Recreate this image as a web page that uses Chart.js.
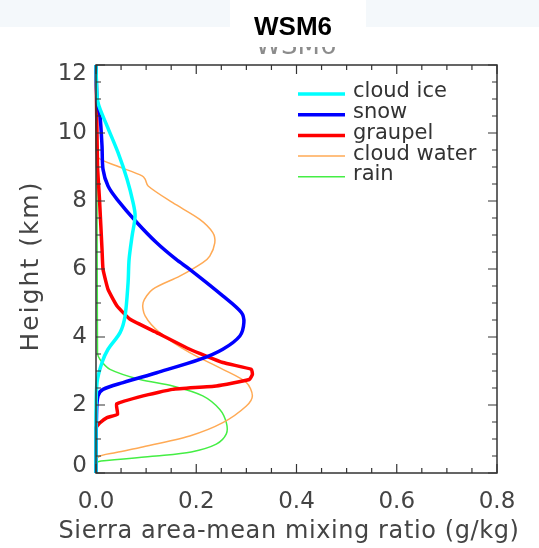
<!DOCTYPE html>
<html>
<head>
<meta charset="utf-8">
<script src="https://cdn.jsdelivr.net/npm/chart.js@4/dist/chart.umd.min.js"></script>
<style>
html, body { margin: 0; padding: 0; background: #fff; }
#wrap { width: 539px; height: 548px; }
</style>
</head>
<body>
<div id="wrap"><canvas id="profileChart" width="539" height="548"></canvas></div>
<script>

/* mixing ratio profiles (g/kg) against height (km) */

const iceHeight = [12, 11.48, 10.89, 10.21, 9.42, 8.64, 7.95, 7.56, 6.97, 6.28, 5.60, 4.62, 4.13, 3.64, 3.25, 2.66, 1.68, 0];
const iceRatio = [0.000, 0.001, 0.004, 0.022, 0.044, 0.062, 0.074, 0.078, 0.072, 0.066, 0.064, 0.058, 0.048, 0.024, 0.012, 0.002, 0.000, 0.000];

const snowHeight = [12, 10.99, 10.5, 9.62, 8.93, 8.44, 8.05, 7.36, 6.77, 6.28, 5.99, 5.21, 4.72, 4.42, 4.03, 3.64, 3.34, 2.95, 2.66, 2.46, 2.27, 1.68, 0];
const snowRatio = [0.000, 0.002, 0.008, 0.012, 0.014, 0.024, 0.042, 0.082, 0.121, 0.160, 0.187, 0.253, 0.290, 0.295, 0.287, 0.253, 0.207, 0.121, 0.054, 0.014, 0.004, 0.001, 0.000];

const graupelHeight = [12, 9.03, 8.05, 6.58, 5.99, 5.40, 4.91, 4.52, 4.13, 3.64, 3.25, 3.05, 2.90, 2.75, 2.56, 2.46, 2.27, 2.03, 1.73, 1.63, 1.48, 1.33, 0];
const graupelRatio = [0.000, 0.003, 0.007, 0.012, 0.014, 0.024, 0.042, 0.068, 0.121, 0.187, 0.253, 0.310, 0.312, 0.306, 0.240, 0.153, 0.094, 0.041, 0.043, 0.022, 0.008, 0.000, 0.000];

const cloudWaterHeight = [12, 9.62, 9.28, 9.03, 8.74, 8.64, 8.44, 7.95, 7.46, 7.07, 6.77, 6.38, 6.19, 5.79, 5.40, 5.01, 4.62, 4.13, 3.54, 3.05, 2.66, 2.27, 1.97, 1.48, 1.09, 0.75, 0.60, 0.45, 0];
const cloudWaterRatio = [0.000, 0.000, 0.004, 0.042, 0.092, 0.098, 0.104, 0.153, 0.207, 0.233, 0.237, 0.227, 0.213, 0.167, 0.113, 0.094, 0.098, 0.127, 0.187, 0.253, 0.300, 0.312, 0.300, 0.253, 0.187, 0.088, 0.040, 0.003, 0.000];

const rainHeight = [12, 3.54, 3.34, 3.05, 2.75, 2.56, 2.27, 1.87, 1.48, 1.15, 0.85, 0.62, 0.50, 0.35, 0.27, 0];
const rainRatio = [0.002, 0.003, 0.008, 0.028, 0.088, 0.153, 0.213, 0.247, 0.260, 0.260, 0.240, 0.190, 0.120, 0.010, 0.000, 0.000];

const xTicks = [0.0, 0.2, 0.4, 0.6, 0.8];
const yTicks = [0, 2, 4, 6, 8, 10, 12];

const xTitle = "Sierra area-mean mixing ratio (g/kg)";
const yTitle = "Height (km)";

function profile(ratio, height) {
return ratio.map((r, i) => ({ x: r, y: height[i] }));
}

function series(label, ratio, height, color, width, tension) {
return {
label: label,
data: profile(ratio, height),
borderColor: color,
backgroundColor: color,
borderWidth: width,
showLine: true,
pointRadius: 0,
tension: tension,
clip: 4
};
}

/* HEADER, FRAME, TICKS, AXIS TEXT AND LEGEND */

const decor = {
id: "decor",

beforeDraw(chart) {
const ctx = chart.ctx;
ctx.save();
ctx.fillStyle = "#ffffff";
ctx.fillRect(0, 0, chart.width, chart.height);
ctx.fillStyle = "#f4f8fb";
ctx.fillRect(0, 0, 230, 27);
ctx.fillRect(366, 0, chart.width - 366, 27);

// faded title underneath, top part hidden
ctx.save();
ctx.beginPath();
ctx.rect(0, 47, chart.width, 20);
ctx.clip();
ctx.fillStyle = "#8c8c8c";
ctx.font = "26px 'DejaVu Sans'";
ctx.textAlign = "center";
ctx.textBaseline = "alphabetic";
ctx.fillText("WSM6", 296, 54);
ctx.restore();

ctx.fillStyle = "#000";
ctx.font = "bold 26px 'Liberation Sans'";
ctx.textAlign = "center";
ctx.textBaseline = "alphabetic";
ctx.fillText("WSM6", 293, 35);
ctx.restore();
},

afterDraw(chart) {
const ctx = chart.ctx;
const a = chart.chartArea;
const xs = chart.scales.x;
const ys = chart.scales.y;

ctx.save();
ctx.strokeStyle = "#333";
ctx.lineWidth = 1.5;
ctx.strokeRect(a.left, a.top, a.right - a.left, a.bottom - a.top);

ctx.lineWidth = 1.2;
ctx.beginPath();
for (let v = 0; v <= 0.8001; v += 0.05) {
const px = xs.getPixelForValue(v);
const len = Math.abs(v / 0.2 - Math.round(v / 0.2)) < 0.01 ? 9 : 5;
ctx.moveTo(px, a.bottom); ctx.lineTo(px, a.bottom - len);
ctx.moveTo(px, a.top); ctx.lineTo(px, a.top + len);
}
for (let v = 0; v <= 12.001; v += 0.5) {
const py = ys.getPixelForValue(v);
const len = Math.abs(v / 2 - Math.round(v / 2)) < 0.01 ? 9 : 5;
ctx.moveTo(a.left, py); ctx.lineTo(a.left + len, py);
ctx.moveTo(a.right, py); ctx.lineTo(a.right - len, py);
}
ctx.stroke();

// height labels, end ones kept inside the frame
ctx.fillStyle = "#444";
ctx.font = "23px 'DejaVu Sans'";
ctx.textAlign = "right";
ctx.textBaseline = "middle";
yTicks.forEach(v => {
let py = ys.getPixelForValue(v);
py = Math.min(Math.max(py, a.top + 9), a.bottom - 7);
ctx.fillText(String(v), a.left - 9, py);
});

// axis titles
ctx.textAlign = "center";
ctx.textBaseline = "middle";
ctx.font = "24px 'DejaVu Sans'";
ctx.letterSpacing = "0.6px";
ctx.fillText(xTitle, 289, 532);

ctx.save();
ctx.translate(31, (a.top + a.bottom) / 2 - 3);
ctx.rotate(-Math.PI / 2);
ctx.font = "25px 'DejaVu Sans'";
ctx.letterSpacing = "2px";
ctx.fillText(yTitle, 0, 0);
ctx.restore();
ctx.letterSpacing = "0px";

// legend in the upper right of the plot
ctx.font = "21px 'DejaVu Sans'";
ctx.textAlign = "left";
ctx.textBaseline = "middle";
chart.data.datasets.forEach((ds, i) => {
const y = 94 + i * 20.7;
ctx.strokeStyle = ds.borderColor;
ctx.lineWidth = ds.borderWidth;
ctx.beginPath();
ctx.moveTo(298, y);
ctx.lineTo(345, y);
ctx.stroke();
ctx.fillStyle = "#333";
ctx.fillText(ds.label, 353, y - 2);
});
ctx.restore();
}
};

/* PROFILE CHART */

const ctx = document.getElementById("profileChart");

new Chart(ctx, {

type: "scatter",

data: {
datasets: [
series("cloud ice", iceRatio, iceHeight, "#00ffff", 3.5, 0.3),
series("snow", snowRatio, snowHeight, "#0000ff", 3.5, 0.3),
series("graupel", graupelRatio, graupelHeight, "#ff0000", 3.5, 0.12),
series("cloud water", cloudWaterRatio, cloudWaterHeight, "#ffaa55", 1.5, 0.3),
series("rain", rainRatio, rainHeight, "#44ee44", 1.5, 0.3)
]
},

options: {

responsive: false,
animation: false,
events: [],

layout: {
padding: { left: 0, top: 65, right: 42, bottom: 0 }
},

plugins: {
legend: { display: false },
tooltip: { enabled: false }
},

scales: {

x: {
type: "linear",
min: 0,
max: 0.8,
afterBuildTicks: s => { s.ticks = xTicks.map(v => ({ value: v })); },
afterFit: s => { s.height = 75; },
grid: { display: false, drawTicks: false },
border: { display: false },
ticks: {
padding: 15,
color: "#444",
font: { family: "DejaVu Sans", size: 23 },
callback: v => v.toFixed(1)
}
},

y: {
type: "linear",
min: 0,
max: 12,
afterBuildTicks: s => { s.ticks = yTicks.map(v => ({ value: v })); },
afterFit: s => { s.width = 96; },
grid: { display: false, drawTicks: false },
border: { display: false },
ticks: { display: false }
}

}

},

plugins: [decor]

});

</script>
</body>
</html>
